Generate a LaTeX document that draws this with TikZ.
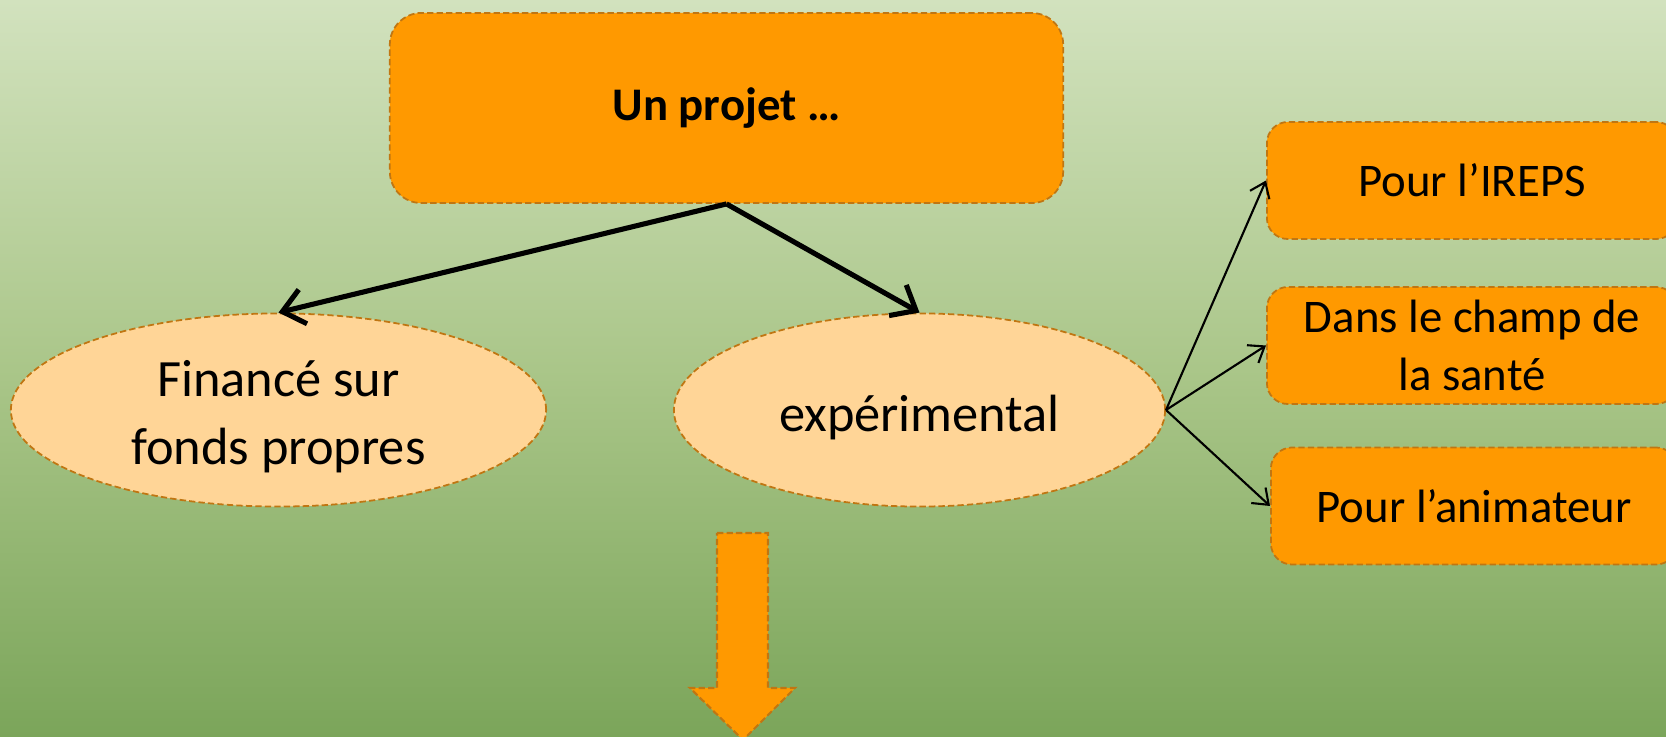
\documentclass[tikz,border=0pt]{standalone}
\usepackage{fontspec}
\setmainfont{Carlito}
\usetikzlibrary{arrows.meta,shapes.geometric}
\definecolor{bgtop}{RGB}{210,226,190}
\definecolor{bgmid}{RGB}{170,198,137}
\definecolor{bgbot}{RGB}{123,165,90}
\definecolor{orfill}{RGB}{255,153,0}
\definecolor{elfill}{RGB}{255,213,151}
\definecolor{bord}{RGB}{192,118,18}
\tikzset{
  dashbord/.style={draw=bord, line width=0.5pt, dash pattern=on 1.8pt off 0.9pt},
  topbox/.style={dashbord, fill=orfill, rectangle, rounded corners=9pt, inner sep=0pt,
    minimum width=6.73cm, minimum height=1.9cm, font=\fontsize{13.3}{16}\selectfont\bfseries},
  sidebox/.style={dashbord, fill=orfill, rectangle, rounded corners=6pt, inner sep=0pt,
    minimum width=4.1cm, minimum height=1.17cm, align=center, font=\fontsize{13.3}{16.4}\selectfont},
  ell/.style={dashbord, fill=elfill, ellipse, inner sep=0pt},
  elltext/.style={inner sep=0pt, align=center, font=\fontsize{14.9}{19.3}\selectfont},
  thick arrow/.style={line width=1.45pt, -{Straight Barb[length=6pt,width=10pt]}},
  thin arrow/.style={line width=0.6pt, -{Straight Barb[length=4pt,width=6pt]}},
}
\begin{document}
\begin{tikzpicture}[x=0.01cm,y=-0.01cm]
\useasboundingbox (0,0) rectangle (1666,737);
\shade[top color=bgtop, bottom color=bgbot, middle color=bgmid] (0,0) rectangle (1666,737);
% top box
\node[topbox] (top) at (726.5,108) {Un projet …};
% ellipses
\node[ell, minimum width=5.35cm, minimum height=1.93cm] (fin) at (278.5,410) {};
\node[elltext] (fintext) at (278.5,417) {Financé sur\\fonds propres};
\node[ell, minimum width=4.91cm, minimum height=1.93cm] (exp) at (919.5,410) {};
\node[elltext] (exptext) at (919.5,418) {expérimental};
% side boxes
\node[sidebox] (ireps) at (1472,180.5) {Pour l’IREPS};
\node[sidebox] (sante) at (1472,345.5) {Dans le champ de\\la santé};
\node[sidebox, minimum width=4.06cm] (anim) at (1474,506) {Pour l’animateur};
% connectors
\draw[thick arrow] (top.south) -- (fin.north);
\draw[thick arrow] (top.south) -- (exp.north);
\draw[thin arrow] (exp.east) -- (ireps.west);
\draw[thin arrow] (exp.east) -- (sante.west);
\draw[thin arrow] (exp.east) -- (anim.west);
% block arrow
\draw[dashbord, fill=orfill, line width=0.6pt] (717,533) -- (768,533) -- (768,688) -- (795,688) -- (743,740) -- (690,688) -- (717,688) -- cycle;
\end{tikzpicture}
\end{document}
